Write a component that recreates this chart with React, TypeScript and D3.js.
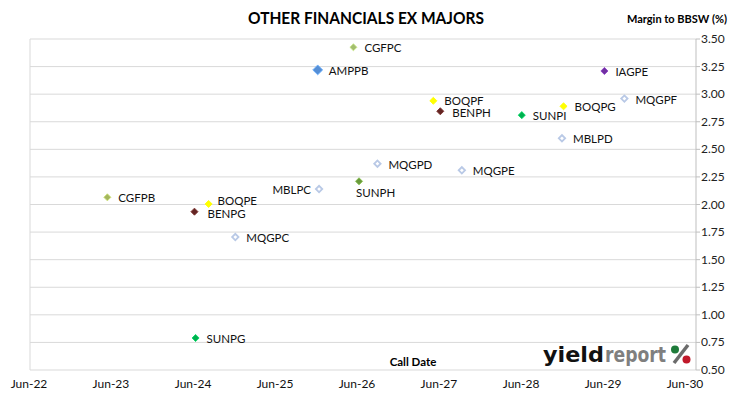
import React from 'react';
import * as d3 from 'd3';

// securities, call date and margin to BBSW (%)
const names = ['CGFPB', 'BENPG', 'SUNPG', 'BOQPE', 'MQGPC', 'AMPPB', 'MBLPC', 'CGFPC', 'SUNPH',
    'MQGPD', 'BOQPF', 'BENPH', 'MQGPE', 'SUNPI', 'MBLPD', 'BOQPG', 'IAGPE', 'MQGPF'];
const callDates = ['2023-06-14', '2024-07-06', '2024-07-11', '2024-09-07', '2025-01-04', '2026-01-06',
    '2026-01-12', '2026-06-14', '2026-07-09', '2026-09-29', '2027-06-05', '2027-07-06', '2027-10-10',
    '2028-07-03', '2028-12-29', '2029-01-05', '2029-07-06', '2029-10-03'];
const margins = [2.065, 1.935, 0.79, 2.005, 1.705, 3.22, 2.14, 3.425, 2.21,
    2.37, 2.94, 2.845, 2.31, 2.81, 2.60, 2.89, 3.21, 2.96];

const yTicks = [0.5, 0.75, 1.0, 1.25, 1.5, 1.75, 2.0, 2.25, 2.5, 2.75, 3.0, 3.25, 3.5];
const xTickDates = ['2022-06-30', '2023-06-30', '2024-06-30', '2025-06-30', '2026-06-30',
    '2027-06-30', '2028-06-30', '2029-06-30', '2030-06-30'];
const xTickLabels = ['Jun-22', 'Jun-23', 'Jun-24', 'Jun-25', 'Jun-26', 'Jun-27', 'Jun-28', 'Jun-29', 'Jun-30'];

// marker styles
const markerFill: Record<string, string> = {
    CGFPB: '#a4b65e', CGFPC: '#a3bd6f', AMPPB: '#558ed5', IAGPE: '#7030a0',
    BOQPE: '#ffff00', BOQPF: '#ffff00', BOQPG: '#ffff00',
    BENPG: '#632523', BENPH: '#632523',
    SUNPG: '#00b050', SUNPI: '#00b050', SUNPH: '#6a9a3c',
};
const hollowStroke = '#b9c9e6';

// label placement tweaks
const labelSide: Record<string, string> = {
    MBLPC: 'left', SUNPH: 'below', BOQPE: 'up', BENPG: 'down', BOQPF: 'up1', BENPH: 'down1',
};

const W = 730, H = 399;
const font = 'Lato, "Liberation Sans", sans-serif';
const logoFont = '"DejaVu Sans Condensed", "DejaVu Sans", sans-serif';

const parse = (s: string) => d3.timeParse('%Y-%m-%d')(s) as Date;

export default function App() {
    const x = d3.scaleTime()
        .domain([parse(xTickDates[0]), parse(xTickDates[xTickDates.length - 1])])
        .range([29, 685]);
    const y = d3.scaleLinear().domain([0.5, 3.5]).range([370, 39]);
    const left = 30, right = 696;

    const diamond = (s: number) => d3.symbol(d3.symbolSquare, s * s)() as string;

    return (
        <div style={{ position: 'absolute', left: 0, top: 0 }}>
            <svg width={W} height={H} style={{ display: 'block', background: '#fff' }} fontFamily={font}>
                <text x={366} y={24} textAnchor="middle" fontWeight="bold" fontSize={17}
                      textLength={236} lengthAdjust="spacingAndGlyphs" fill="#000">OTHER FINANCIALS EX MAJORS</text>
                <text x={727} y={23} textAnchor="end" fontWeight="bold" fontSize={11} fill="#000">Margin to BBSW (%)</text>

                {yTicks.map(t => (
                    <g key={t}>
                        <line x1={left} x2={right} y1={y(t)} y2={y(t)} stroke="#d9d9d9" strokeWidth={1} />
                        <line x1={right} x2={right + 4} y1={y(t)} y2={y(t)} stroke="#bfbfbf" />
                        <text x={701} y={y(t) + 4} fontSize={12} fill="#222">{t.toFixed(2)}</text>
                    </g>
                ))}
                <line x1={left} x2={left} y1={y(3.5)} y2={y(0.5)} stroke="#d9d9d9" />
                <line x1={right} x2={right} y1={y(3.5)} y2={y(0.5)} stroke="#bfbfbf" />

                {xTickDates.map((d, i) => (
                    <text key={d} x={x(parse(d))} y={388} textAnchor="middle" fontSize={12} fill="#111">{xTickLabels[i]}</text>
                ))}
                <text x={413} y={366} textAnchor="middle" fontWeight="bold" fontSize={11.5} fill="#000">Call Date</text>

                {names.map((n, i) => {
                    const px = x(parse(callDates[i]));
                    const py = y(margins[i]);
                    const fill = markerFill[n];
                    const side = labelSide[n];
                    let lx = px + 11, ly = py + 5, anchor = 'start';
                    if (side === 'left') { lx = px - 8; anchor = 'end'; }
                    if (side === 'below') { lx = px - 3; ly = py + 16; }
                    if (side === 'up') { lx = px + 9; ly = py + 1.5; }
                    if (side === 'down') { lx = px + 13; ly = py + 6.5; }
                    if (side === 'up1') { ly = py + 4.5; }
                    if (side === 'down1') { lx = px + 12; ly = py + 5.5; }
                    const big = n === 'AMPPB';
                    return (
                        <g key={n}>
                            {fill ? (
                                <path d={diamond(big ? 7 : 5)} transform={`translate(${px},${py}) rotate(45)`}
                                      fill={fill} stroke={d3.color(fill)!.brighter(0.6).toString()} strokeWidth={0.8} />
                            ) : (
                                <path d={diamond(4.5)} transform={`translate(${px},${py}) rotate(45)`}
                                      fill="#fff" stroke={hollowStroke} strokeWidth={1.8} />
                            )}
                            <text x={lx} y={ly} textAnchor={anchor} fontSize={11.5} fill="#111">{n}</text>
                        </g>
                    );
                })}

                <g fontFamily={logoFont}>
                    <text x={543} y={362} fontSize={22} fontWeight="bold" fill="#111"
                          textLength={61} lengthAdjust="spacingAndGlyphs">yield</text>
                    <text x={605} y={362} fontSize={22} fontWeight="bold" fill="#7f7f7f"
                          textLength={61} lengthAdjust="spacingAndGlyphs">report</text>
                    <line x1={688} y1={345} x2={674} y2={363} stroke="#6b6b6b" strokeWidth={3.5} />
                    <circle cx={675} cy={349.5} r={4} fill="#1e7b3a" />
                    <circle cx={686.5} cy={359.5} r={4} fill="#c0182a" />
                </g>
            </svg>
        </div>
    );
}
